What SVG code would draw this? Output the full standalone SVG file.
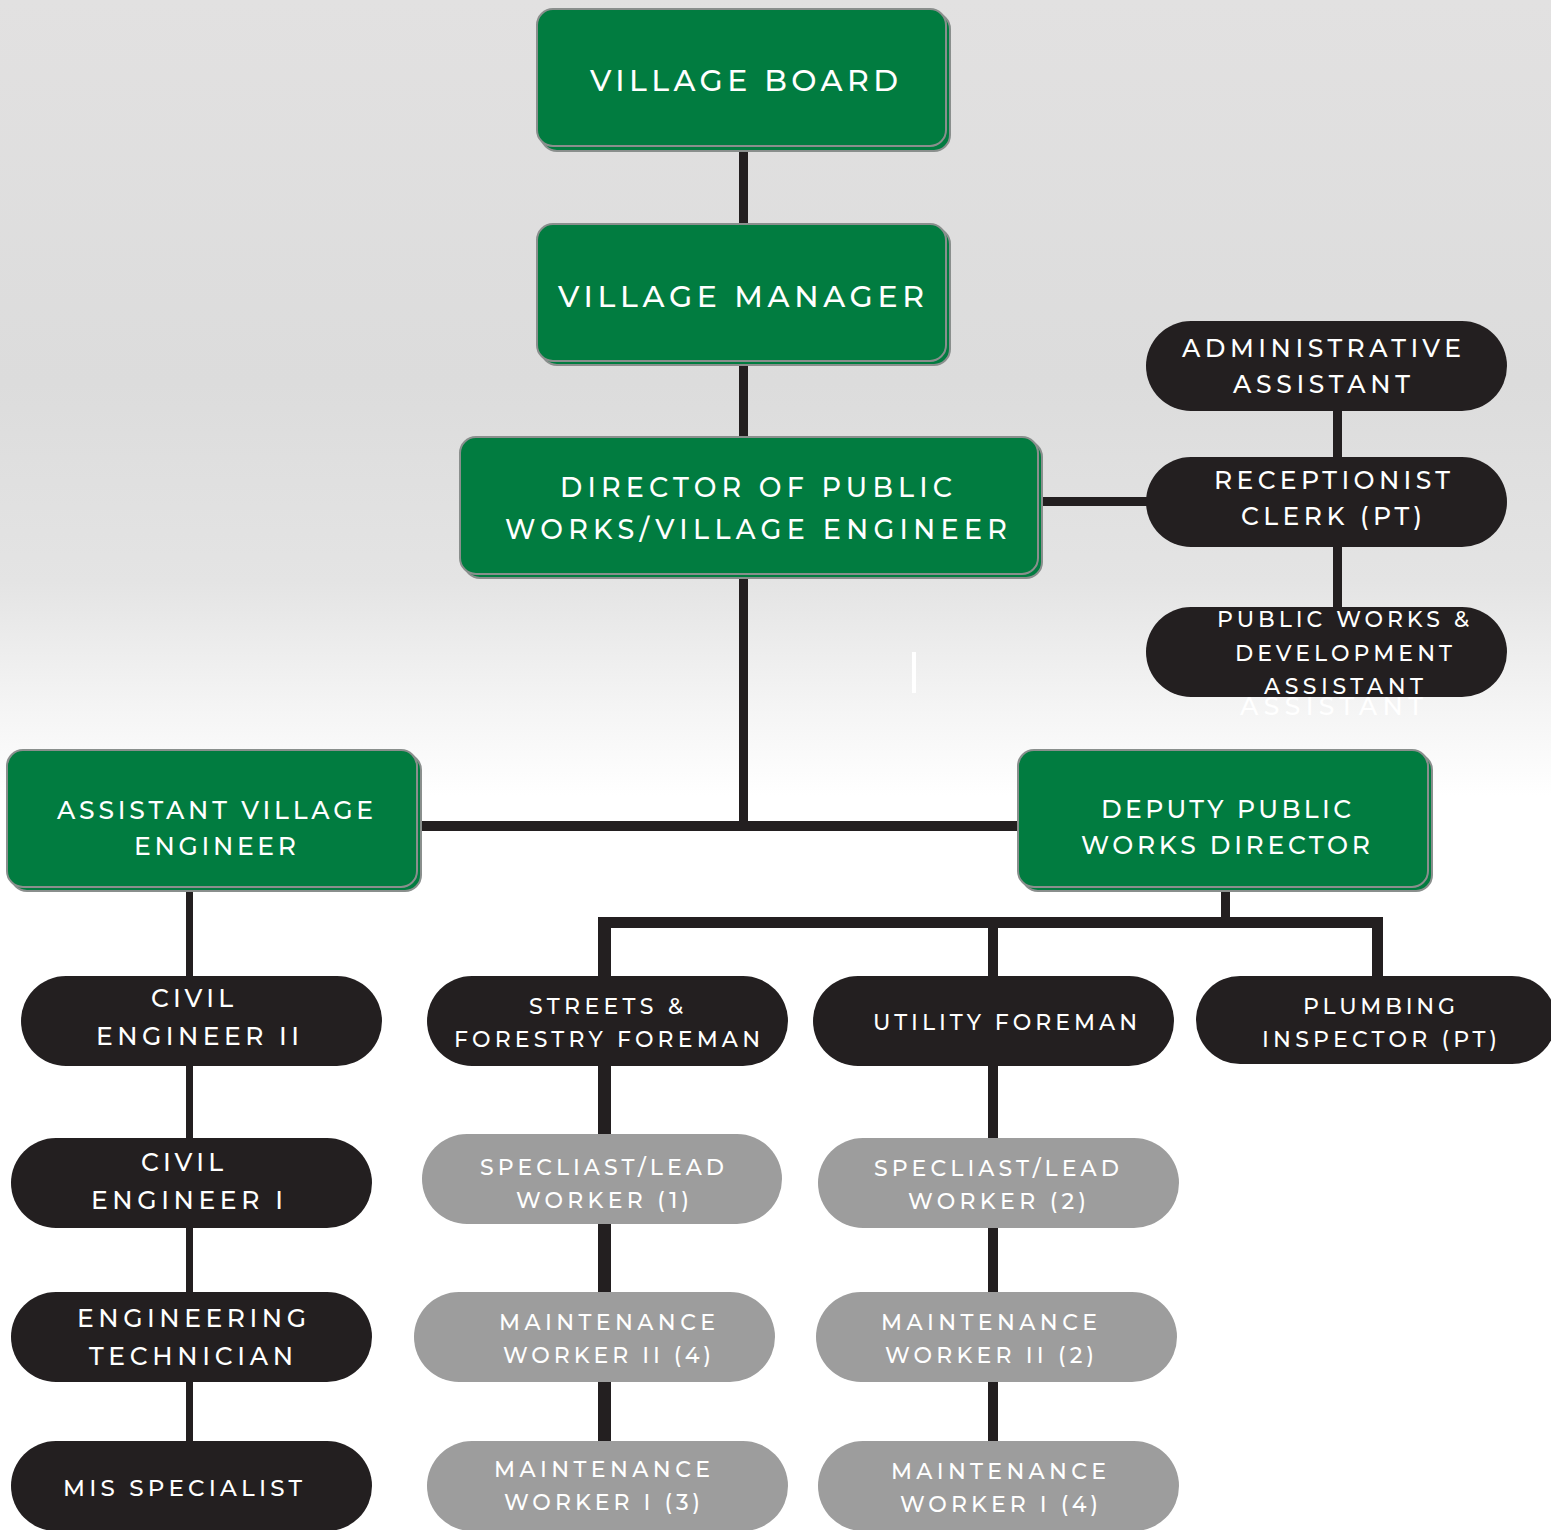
<svg xmlns="http://www.w3.org/2000/svg" width="1551" height="1530" viewBox="0 0 1551 1530">
<defs>
<linearGradient id="bg" x1="0" y1="0" x2="0" y2="1530" gradientUnits="userSpaceOnUse">
<stop offset="0" stop-color="#e2e1e1"/>
<stop offset="0.25" stop-color="#dcdcdc"/>
<stop offset="0.38" stop-color="#e4e4e4"/>
<stop offset="0.46" stop-color="#f4f4f4"/>
<stop offset="0.52" stop-color="#ffffff"/>
<stop offset="1" stop-color="#ffffff"/>
</linearGradient>
<style>
.g{fill:#017c40;stroke:#8a8f8d;stroke-width:2}
.b{fill:#231f20}
.gr{fill:#9d9d9d}
.c{fill:#231f20}
text{font-family:"Montserrat","Noto Sans","Liberation Sans",sans-serif;font-weight:500;fill:#ffffff}
.t1{font-size:30px}
.t2{font-size:27px}
.t3{font-size:25px}
.t4{font-size:23px}
.t5{font-size:22px}
.gt{fill:#f2f2f2}
</style>
</defs>
<rect width="1551" height="1530" fill="url(#bg)"/>
<g id="connectors">
<rect class="c" x="739" y="145" width="9" height="82"/>
<rect class="c" x="739" y="360" width="9" height="80"/>
<rect class="c" x="739" y="573" width="9" height="257"/>
<rect class="c" x="418" y="821" width="602" height="10"/>
<rect class="c" x="1039" y="497" width="110" height="9"/>
<rect class="c" x="1333" y="409" width="9" height="50"/>
<rect class="c" x="1333" y="545" width="9" height="64"/>
<rect class="c" x="186" y="886" width="7" height="560"/>
<rect class="c" x="1221" y="888" width="9" height="32"/>
<rect class="c" x="598" y="917" width="785" height="11"/>
<rect class="c" x="598" y="917" width="13" height="530"/>
<rect class="c" x="988" y="917" width="10" height="530"/>
<rect class="c" x="1372" y="917" width="11" height="62"/>
<rect x="912" y="652" width="4" height="41" fill="#ffffff"/>
</g>
<g id="village-board">
<rect class="g" x="541" y="13" width="409" height="138" rx="16"/>
<rect class="g" x="537" y="9" width="409" height="137" rx="16"/>
<text class="t1" x="590" y="91" textLength="308" lengthAdjust="spacing">VILLAGE BOARD</text>
</g>
<g id="village-manager">
<rect class="g" x="541" y="228" width="409" height="137" rx="16"/>
<rect class="g" x="537" y="224" width="409" height="137" rx="16"/>
<text class="t1" x="558" y="307" textLength="366" lengthAdjust="spacing">VILLAGE MANAGER</text>
</g>
<g id="director">
<rect class="g" x="464" y="441" width="578" height="137" rx="16"/>
<rect class="g" x="460" y="437" width="578" height="137" rx="16"/>
<text class="t2" x="560" y="497" textLength="392" lengthAdjust="spacing">DIRECTOR OF PUBLIC</text>
<text class="t2" x="505" y="539" textLength="502" lengthAdjust="spacing">WORKS/VILLAGE ENGINEER</text>
</g>
<g id="admin-assistant">
<rect class="b" x="1146" y="321" width="361" height="90" rx="45"/>
<text class="t3" x="1182" y="357" textLength="279" lengthAdjust="spacing">ADMINISTRATIVE</text>
<text class="t3" x="1233" y="393" textLength="177" lengthAdjust="spacing">ASSISTANT</text>
</g>
<g id="receptionist">
<rect class="b" x="1146" y="457" width="361" height="90" rx="45"/>
<text class="t3" x="1214" y="489" textLength="236" lengthAdjust="spacing">RECEPTIONIST</text>
<text class="t3" x="1241" y="525" textLength="181" lengthAdjust="spacing">CLERK (PT)</text>
</g>
<g id="pw-dev-assistant">
<text class="t3" x="1240" y="715" textLength="183" lengthAdjust="spacing" fill="#ffffff" style="fill:#ffffff">ASSISTANT</text>
<rect class="b" x="1146" y="607" width="361" height="90" rx="45"/>
<text class="t5" x="1217" y="627" textLength="252" lengthAdjust="spacing">PUBLIC WORKS &amp;</text>
<text class="t5" x="1235" y="661" textLength="217" lengthAdjust="spacing">DEVELOPMENT</text>
<text class="t5" x="1264" y="694" textLength="159" lengthAdjust="spacing">ASSISTANT</text>
</g>
<g id="assistant-village-engineer">
<rect class="g" x="11" y="754" width="410" height="137" rx="16"/>
<rect class="g" x="7" y="750" width="410" height="137" rx="16"/>
<text class="t3" x="57" y="819" textLength="316" lengthAdjust="spacing">ASSISTANT VILLAGE</text>
<text class="t3" x="134" y="855" textLength="162" lengthAdjust="spacing">ENGINEER</text>
</g>
<g id="deputy-director">
<rect class="g" x="1022" y="754" width="410" height="137" rx="16"/>
<rect class="g" x="1018" y="750" width="410" height="137" rx="16"/>
<text class="t3" x="1101" y="818" textLength="250" lengthAdjust="spacing">DEPUTY PUBLIC</text>
<text class="t3" x="1081" y="854" textLength="289" lengthAdjust="spacing">WORKS DIRECTOR</text>
</g>
<g id="civil-engineer-2">
<rect class="b" x="21" y="976" width="361" height="90" rx="45"/>
<text class="t3" x="151" y="1007" textLength="82" lengthAdjust="spacing">CIVIL</text>
<text class="t3" x="96" y="1045" textLength="203" lengthAdjust="spacing">ENGINEER II</text>
</g>
<g id="civil-engineer-1">
<rect class="b" x="11" y="1138" width="361" height="90" rx="45"/>
<text class="t3" x="141" y="1171" textLength="82" lengthAdjust="spacing">CIVIL</text>
<text class="t3" x="91" y="1209" textLength="192" lengthAdjust="spacing">ENGINEER I</text>
</g>
<g id="engineering-technician">
<rect class="b" x="11" y="1292" width="361" height="90" rx="45"/>
<text class="t3" x="77" y="1327" textLength="229" lengthAdjust="spacing">ENGINEERING</text>
<text class="t3" x="89" y="1365" textLength="204" lengthAdjust="spacing">TECHNICIAN</text>
</g>
<g id="mis-specialist">
<rect class="b" x="11" y="1441" width="361" height="90" rx="45"/>
<text class="t4" x="63" y="1496" textLength="239" lengthAdjust="spacing">MIS SPECIALIST</text>
</g>
<g id="streets-forestry-foreman">
<rect class="b" x="427" y="976" width="361" height="90" rx="45"/>
<text class="t5" x="529" y="1014" textLength="154" lengthAdjust="spacing">STREETS &amp;</text>
<text class="t5" x="454" y="1047" textLength="306" lengthAdjust="spacing">FORESTRY FOREMAN</text>
</g>
<g id="utility-foreman">
<rect class="b" x="813" y="976" width="361" height="90" rx="45"/>
<text class="t5" x="873" y="1030" textLength="264" lengthAdjust="spacing">UTILITY FOREMAN</text>
</g>
<g id="plumbing-inspector">
<rect class="b" x="1196" y="976" width="360" height="88" rx="44"/>
<text class="t5" x="1303" y="1014" textLength="152" lengthAdjust="spacing">PLUMBING</text>
<text class="t5" x="1262" y="1047" textLength="235" lengthAdjust="spacing">INSPECTOR (PT)</text>
</g>
<g id="specialist-1">
<rect class="gr" x="422" y="1134" width="360" height="90" rx="45"/>
<text class="t5" x="480" y="1175" textLength="244" lengthAdjust="spacing">SPECLIAST/LEAD</text>
<text class="t5" x="516" y="1208" textLength="173" lengthAdjust="spacing">WORKER (1)</text>
</g>
<g id="specialist-2">
<rect class="gr" x="818" y="1138" width="361" height="90" rx="45"/>
<text class="t5" x="874" y="1176" textLength="245" lengthAdjust="spacing">SPECLIAST/LEAD</text>
<text class="t5" x="908" y="1209" textLength="178" lengthAdjust="spacing">WORKER (2)</text>
</g>
<g id="maint-2-streets">
<rect class="gr" x="414" y="1292" width="361" height="90" rx="45"/>
<text class="t5" x="499" y="1330" textLength="216" lengthAdjust="spacing">MAINTENANCE</text>
<text class="t5" x="503" y="1363" textLength="208" lengthAdjust="spacing">WORKER II (4)</text>
</g>
<g id="maint-2-utility">
<rect class="gr" x="816" y="1292" width="361" height="90" rx="45"/>
<text class="t5" x="881" y="1330" textLength="216" lengthAdjust="spacing">MAINTENANCE</text>
<text class="t5" x="885" y="1363" textLength="209" lengthAdjust="spacing">WORKER II (2)</text>
</g>
<g id="maint-1-streets">
<rect class="gr" x="427" y="1441" width="361" height="90" rx="45"/>
<text class="t5" x="494" y="1477" textLength="216" lengthAdjust="spacing">MAINTENANCE</text>
<text class="t5" x="504" y="1510" textLength="196" lengthAdjust="spacing">WORKER I (3)</text>
</g>
<g id="maint-1-utility">
<rect class="gr" x="818" y="1441" width="361" height="90" rx="45"/>
<text class="t5" x="891" y="1479" textLength="215" lengthAdjust="spacing">MAINTENANCE</text>
<text class="t5" x="900" y="1512" textLength="198" lengthAdjust="spacing">WORKER I (4)</text>
</g>
</svg>
